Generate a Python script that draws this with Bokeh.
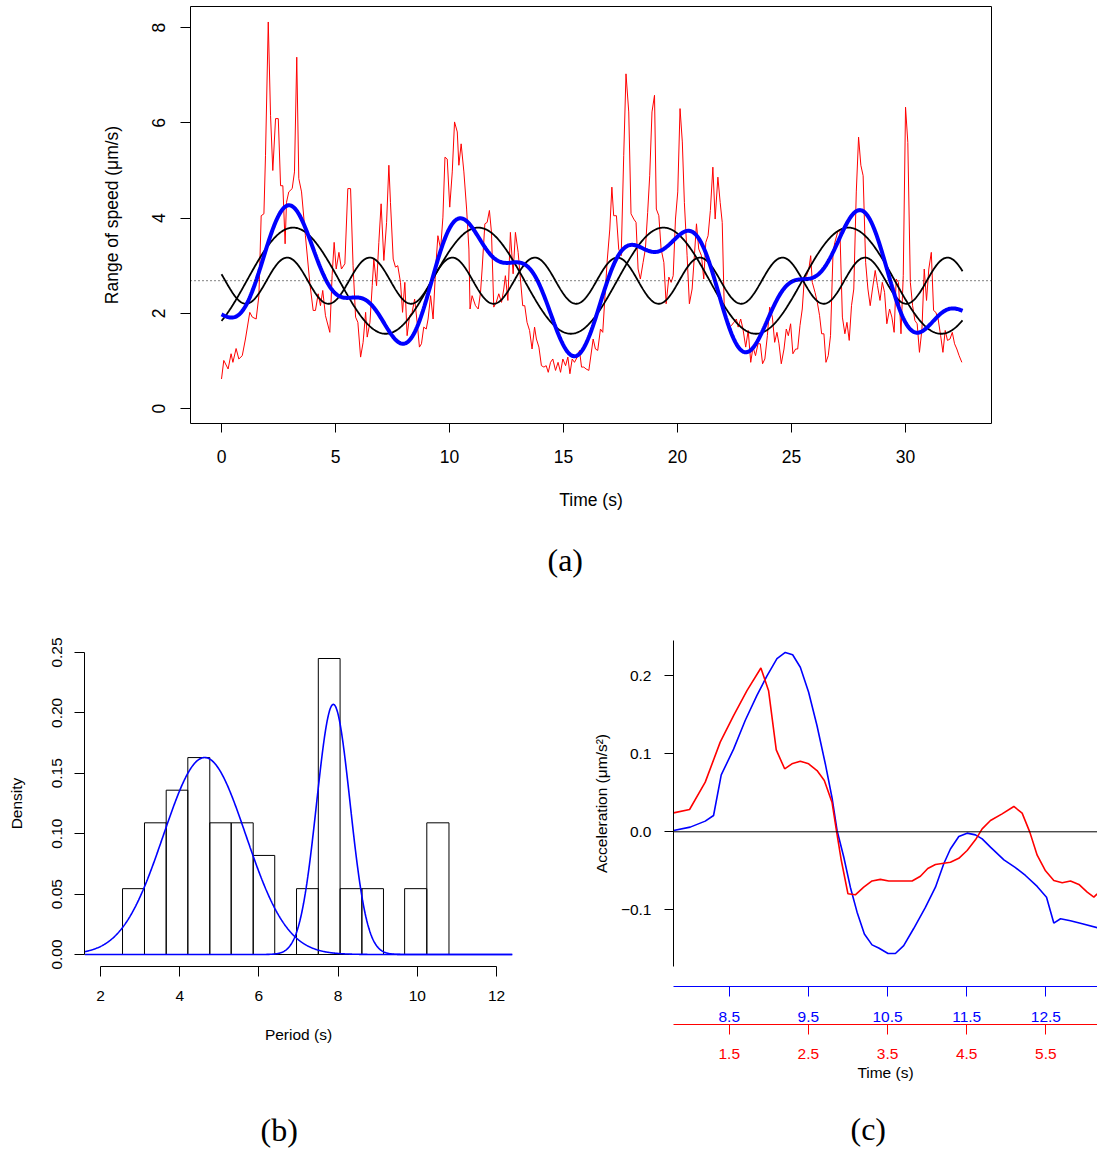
import numpy as np
from bokeh.plotting import figure
from bokeh.layouts import column, row
from bokeh.models import (Range1d, LinearAxis, FixedTicker, Span, Title,
                          PrintfTickFormatter, CustomJSTickFormatter)
from bokeh.embed import file_html
from bokeh.resources import INLINE

SANS = "Liberation Sans"
SERIF = "Liberation Serif"

# ---------------- Panel (a) data ----------------
speed_time = [
    0.00, 0.10, 0.29, 0.42, 0.50, 0.64, 0.76, 0.91, 1.05, 1.24, 1.35, 1.52, 1.64, 1.74, 1.86, 1.93, 2.05, 2.15, 2.25, 2.37,
    2.49, 2.59, 2.69, 2.79, 2.85, 2.95, 3.10, 3.20, 3.30, 3.39, 3.51, 3.68, 3.87, 4.02, 4.12, 4.24, 4.34, 4.44, 4.56, 4.75,
    4.85, 4.94, 5.03, 5.15, 5.26, 5.41,
    5.54, 5.66, 5.77, 5.88, 5.98, 6.10, 6.21, 6.32, 6.39, 6.51, 6.61, 6.68, 6.80, 6.90, 7.00, 7.12, 7.24, 7.34, 7.41, 7.53,
    7.63, 7.73, 7.85, 7.94, 8.04, 8.14, 8.25, 8.36, 8.47, 8.58, 8.68, 8.77, 8.87, 8.98, 9.06, 9.17, 9.28, 9.39, 9.49, 9.61,
    9.71, 9.80, 9.90, 10.01, 10.12, 10.22, 10.34, 10.41, 10.51, 10.63, 10.75, 10.85,
    10.90, 10.99, 11.14, 11.26, 11.36, 11.43, 11.55, 11.65, 11.75, 11.84, 11.94, 12.05, 12.16, 12.28, 12.38, 12.45, 12.56,
    12.67, 12.79, 12.89, 13.01, 13.11, 13.21, 13.30, 13.40, 13.51, 13.62, 13.73, 13.81, 13.92, 14.03, 14.14, 14.24, 14.33,
    14.43, 14.53, 14.65, 14.76, 14.87, 14.97, 15.09, 15.19, 15.28, 15.38, 15.48, 15.60, 15.70, 15.79, 15.89, 15.99, 16.11,
    16.30, 16.40, 16.50, 16.62, 16.72, 16.82, 16.91, 17.03, 17.12, 17.20, 17.32, 17.42, 17.53, 17.64, 17.74, 17.86, 17.96,
    18.08, 18.18, 18.27, 18.37, 18.49, 18.59, 18.69, 18.78, 18.88, 18.99, 19.07, 19.18, 19.28, 19.40, 19.50, 19.62, 19.72,
    19.81, 19.91, 20.01, 20.11, 20.21, 20.30, 20.42, 20.52, 20.64, 20.74, 20.83, 20.93, 21.05, 21.15, 21.24, 21.34, 21.44,
    21.55,
    21.65, 21.77, 21.87, 21.96, 22.05, 22.15, 22.25, 22.36, 22.47, 22.58, 22.66, 22.77, 22.87, 22.99, 23.10, 23.21, 23.31,
    23.42, 23.53, 23.63, 23.73, 23.83, 23.94, 24.04, 24.16, 24.26, 24.36, 24.45, 24.55, 24.67, 24.77, 24.86, 24.96, 25.06,
    25.18, 25.27, 25.37, 25.47, 25.56, 25.66, 25.76, 25.84, 25.91, 26.03, 26.13, 26.23, 26.32, 26.42, 26.51, 26.61, 26.71,
    26.82, 26.90, 27.02, 27.12, 27.23, 27.34,
    27.43, 27.53, 27.63, 27.73, 27.84, 27.94, 28.04, 28.14, 28.25, 28.35, 28.45, 28.55, 28.67, 28.77, 28.88, 28.98, 29.08,
    29.18, 29.30, 29.40, 29.50, 29.59, 29.69, 29.80, 29.90, 30.00, 30.10, 30.21, 30.31, 30.41, 30.51, 30.61, 30.72, 30.82,
    30.92, 31.02, 31.13, 31.23, 31.33, 31.43, 31.54, 31.64, 31.74, 31.84, 31.95, 32.05, 32.15, 32.25, 32.35, 32.47,
]
speed_value = [
    0.62, 1.01, 0.83, 1.15, 0.97, 1.26, 1.04, 1.11, 1.46, 2.02, 1.92, 1.88, 2.37, 4.05, 4.09, 5.32, 8.12, 6.16, 5.00, 6.09,
    6.09, 4.68, 4.68, 3.46, 4.33, 4.55, 4.62, 4.97, 7.38, 4.83, 4.55, 3.63, 2.65, 2.06, 2.06, 2.41, 2.16, 2.48, 1.95, 1.60,
    2.79, 3.49, 2.93, 3.28, 2.93, 3.04,
    4.62, 4.62, 3.00, 1.92, 1.81, 1.08, 1.39, 2.02, 1.50, 1.81, 2.58, 3.14, 2.58, 3.49, 4.30, 3.11, 3.91, 5.11, 4.33, 3.14,
    2.97, 3.00, 2.65, 2.02, 2.65, 1.53, 1.95, 2.02, 2.30, 1.81, 1.29, 1.36, 1.71, 1.67, 1.88, 2.37, 1.88, 2.93, 3.63, 3.35,
    4.02, 5.28, 5.24, 4.23, 4.97, 6.02, 5.81, 5.11, 5.56, 4.97, 4.19, 3.35,
    2.09, 2.37, 2.16, 2.09, 2.44, 2.93, 3.88, 3.91, 4.16, 3.70, 2.13, 2.23, 2.41, 2.23, 2.51, 2.79, 2.27,
    3.70, 2.83, 3.70, 3.28, 2.72, 2.16, 2.16, 1.81, 1.64, 1.25, 1.71, 1.46, 1.29, 0.90, 0.87, 0.90, 0.76,
    0.97, 1.04, 0.80, 0.97, 0.76, 1.04, 0.90, 1.08, 0.73, 1.04, 0.97, 1.08, 1.22, 0.87, 0.87, 0.83, 0.80,
    1.46, 1.25, 1.22, 1.67, 1.60, 2.37, 3.07, 3.77, 4.65, 4.05, 4.05, 3.35, 3.21, 5.32, 7.03, 6.23, 4.09,
    3.98, 3.91, 2.93, 2.72, 3.07, 3.35, 4.12, 4.89, 6.23, 6.58, 4.19, 4.05, 3.35, 3.07, 2.20, 2.76, 2.65,
    2.79, 3.98, 4.55, 6.30, 5.60, 4.33, 3.21, 2.20, 2.51, 3.21, 3.88, 3.35, 3.21, 2.72, 3.49, 3.63, 4.16,
    5.07,
    3.98, 4.86, 4.33, 3.91, 2.09, 1.81, 1.71, 1.74, 1.81, 1.88, 1.71, 1.88, 1.67, 1.29, 1.64, 0.97, 1.29,
    1.11, 1.36, 1.36, 0.94, 1.04, 1.53, 2.13, 1.92, 1.39, 1.60, 1.36, 0.94, 1.25, 1.67, 1.53, 1.78, 1.15,
    1.25, 1.25, 1.74, 2.09, 2.72, 2.79, 2.93, 3.21, 2.65, 2.44, 2.23, 1.95, 1.57, 1.57, 0.97, 1.11, 1.53,
    3.28, 3.49, 3.70, 3.77, 1.92, 1.57,
    1.81, 1.43, 2.16, 2.51, 4.55, 5.70, 5.11, 4.89, 3.07, 2.51, 2.16, 2.51, 2.90, 2.58, 2.27, 2.65, 2.44,
    1.78, 2.09, 1.92, 1.60, 2.72, 2.65, 1.57, 2.79, 6.33, 5.59, 2.65, 2.16, 1.85, 1.78, 1.18, 1.67, 2.93,
    2.27, 2.93, 3.28, 2.06, 2.02, 1.88, 1.53, 1.18, 1.64, 1.43, 1.46, 1.60, 1.36, 1.25, 1.11, 0.97,
]
mean_speed = 2.685
# fitted sinusoidal components: (period s, amplitude, time of first peak s)
long_period, long_amplitude, long_peak = 8.12, 1.115, 3.14
short_period, short_amplitude, short_peak = 3.62, 0.485, 2.88
fit_start, fit_end = 0.0, 32.5
a_xticks = [0, 5, 10, 15, 20, 25, 30]
a_yticks = [0, 2, 4, 6, 8]

# ---------------- Panel (b) data ----------------
hist_edges = [2.556, 3.111, 3.659, 4.205, 4.760, 5.300, 5.856, 6.400, 6.950, 7.500, 8.050, 8.600, 9.146, 9.680, 10.240, 10.800]
hist_density = [0.0545, 0.109, 0.136, 0.163, 0.109, 0.109, 0.082, 0.0, 0.0545, 0.245, 0.0545, 0.0545, 0.0, 0.0545, 0.109]
# mixture components: (weight, mean, sd)
mix_components = [(0.425, 4.63, 1.04), (0.219, 7.88, 0.422)]
b_xticks = [2, 4, 6, 8, 10, 12]
b_yticks = [0.0, 0.05, 0.10, 0.15, 0.20, 0.25]

# ---------------- Panel (c) data ----------------
blue_time = [7.797, 8.007, 8.197, 8.302, 8.399, 8.555, 8.703, 8.850, 8.977, 9.103, 9.208, 9.301, 9.398, 9.503, 9.609,
             9.714, 9.798, 9.862, 9.946, 10.03, 10.115, 10.207, 10.304, 10.388, 10.506, 10.599, 10.704, 10.83, 10.978,
             11.105, 11.21, 11.294, 11.40, 11.505, 11.61, 11.695, 11.80, 11.97, 12.116, 12.242, 12.39, 12.508, 12.60,
             12.685, 12.81, 12.96, 13.148]
blue_acc = [0.0017, 0.0060, 0.0137, 0.0209, 0.073, 0.106, 0.143, 0.175, 0.200, 0.222, 0.230, 0.227, 0.211, 0.179, 0.136,
            0.087, 0.044, 0.0017, -0.032, -0.071, -0.103, -0.131, -0.145, -0.149, -0.156, -0.156, -0.146, -0.124, -0.097,
            -0.071, -0.041, -0.022, -0.006, -0.0017, -0.0039, -0.009, -0.0197, -0.036, -0.046, -0.056, -0.070, -0.084,
            -0.117, -0.1115, -0.114, -0.118, -0.123]
red_time = [0.797, 0.999, 1.197, 1.386, 1.555, 1.724, 1.90, 1.997, 2.094, 2.20, 2.292, 2.398, 2.503, 2.609, 2.701, 2.798,
            2.861, 2.916, 3.0, 3.093, 3.199, 3.304, 3.409, 3.515, 3.683, 3.81, 3.915, 4.008, 4.105, 4.294, 4.40, 4.505,
            4.61, 4.695, 4.80, 4.947, 5.095, 5.20, 5.297, 5.39, 5.495, 5.60, 5.706, 5.811, 5.917, 6.022, 6.106, 6.148]
red_acc = [0.0243, 0.0286, 0.0637, 0.115, 0.149, 0.181, 0.210, 0.181, 0.105, 0.0808, 0.0872, 0.0906, 0.0872, 0.0786, 0.0658,
           0.038, -0.0026, -0.0368, -0.0795, -0.0808, -0.071, -0.063, -0.061, -0.063, -0.063, -0.063, -0.057, -0.047,
           -0.042, -0.039, -0.034, -0.024, -0.0103, 0.0038, 0.0145, 0.023, 0.0325, 0.0239, -0.0004, -0.030, -0.050,
           -0.0624, -0.0654, -0.063, -0.0675, -0.0774, -0.0838, -0.0795]
c_blue_ticks = [8.5, 9.5, 10.5, 11.5, 12.5]
c_red_ticks = [1.5, 2.5, 3.5, 4.5, 5.5]
c_yticks = [-0.1, 0.0, 0.1, 0.2]


def style_axis(ax, size, tick_out, standoff, label_standoff, color="black", line=True):
    ax.axis_label_text_font = SANS
    ax.axis_label_text_font_style = "normal"
    ax.axis_label_text_font_size = size
    ax.axis_label_text_color = color
    ax.major_label_text_font = SANS
    ax.major_label_text_font_size = size
    ax.major_label_text_color = color
    ax.major_tick_out = tick_out
    ax.major_tick_in = 0
    ax.minor_tick_out = 0
    ax.minor_tick_in = 0
    ax.minor_tick_line_color = None
    ax.major_tick_line_color = color
    ax.major_tick_line_width = 1
    ax.major_label_standoff = standoff
    ax.axis_label_standoff = label_standoff
    ax.axis_line_color = color if line else None
    ax.axis_line_width = 1


def caption(p, text, offset, standoff):
    """Sub-figure caption below the panel."""
    p.add_layout(Title(text=text, align="left", vertical_align="top", offset=offset, standoff=standoff,
                       text_font=SERIF, text_font_size="32px", text_font_style="normal",
                       text_color="black"), "below")


# ---------------- Panel (a) ----------------
pa = figure(frame_width=801, frame_height=417, min_border_left=190, min_border_right=106,
            min_border_top=6, min_border_bottom=190,
            x_range=Range1d(-1.36, 33.77), y_range=Range1d(-0.315, 8.445),
            output_backend="svg", toolbar_location=None)
pa.grid.visible = False
pa.outline_line_color = "black"
pa.outline_line_width = 1
pa.outline_line_alpha = 1

pa.line(speed_time, speed_value, line_color="red", line_width=1)
t_fit = np.linspace(fit_start, fit_end, 800)
long_curve = mean_speed + long_amplitude * np.cos(2 * np.pi * (t_fit - long_peak) / long_period)
short_curve = mean_speed + short_amplitude * np.cos(2 * np.pi * (t_fit - short_peak) / short_period)
sum_curve = long_curve + short_curve - mean_speed
pa.line(t_fit, long_curve, line_color="black", line_width=1.8)
pa.line(t_fit, short_curve, line_color="black", line_width=1.8)
pa.line(t_fit, sum_curve, line_color="#0000FF", line_width=4)
pa.add_layout(Span(location=mean_speed, dimension="width", line_color="black", line_width=1, line_dash="1 3"))

pa.xaxis.ticker = FixedTicker(ticks=a_xticks)
pa.yaxis.ticker = FixedTicker(ticks=a_yticks)
style_axis(pa.xaxis[0], "17.5px", 9, 17, 24, line=False)
style_axis(pa.yaxis[0], "17.5px", 10, 15, 28, line=False)
pa.yaxis.major_label_orientation = "vertical"
pa.xaxis.axis_label = "Time (s)"
pa.yaxis.axis_label = "Range of speed (μm/s)"
caption(pa, "(a)", 357, 58)

# ---------------- Panel (b) ----------------
b_x0, b_x1 = 1.596, 12.404
pb = figure(frame_width=428, frame_height=326, min_border_left=84, min_border_right=48,
            min_border_top=27, min_border_bottom=184,
            x_range=Range1d(b_x0, b_x1), y_range=Range1d(-0.00993, 0.2599),
            output_backend="svg", toolbar_location=None)
pb.grid.visible = False
pb.outline_line_color = None
pb.quad(left=hist_edges[:-1], right=hist_edges[1:], bottom=0, top=hist_density,
        fill_color=None, line_color="black", line_width=1)
grid_b = np.linspace(b_x0, b_x1, 800)
for w, m, s in mix_components:
    dens = w / (s * np.sqrt(2 * np.pi)) * np.exp(-0.5 * ((grid_b - m) / s) ** 2)
    pb.line(grid_b, dens, line_color="#0000FF", line_width=1.6)

pb.xaxis.ticker = FixedTicker(ticks=b_xticks)
pb.yaxis.ticker = FixedTicker(ticks=b_yticks)
pb.yaxis.formatter = PrintfTickFormatter(format="%.2f")
style_axis(pb.xaxis[0], "15.5px", 10, 14, 22)
style_axis(pb.yaxis[0], "15.5px", 10, 12, 25)
pb.xaxis.bounds = (b_xticks[0], b_xticks[-1])
pb.yaxis.bounds = (b_yticks[0], b_yticks[-1])
pb.yaxis.major_label_orientation = "vertical"
pb.xaxis.axis_label = "Period (s)"
pb.yaxis.axis_label = "Density"
caption(pb, "(b)", 176, 132)

# ---------------- Panel (c) ----------------
pc = figure(frame_width=424, frame_height=326, min_border_left=113, min_border_right=0,
            min_border_top=27, min_border_bottom=184,
            x_range=Range1d(7.796, 13.152), y_range=Range1d(-0.1727, 0.2453),
            x_axis_location=None,
            output_backend="svg", toolbar_location=None)
pc.extra_x_ranges = {"red": Range1d(0.796, 6.152)}
pc.grid.visible = False
pc.outline_line_color = None
pc.add_layout(Span(location=0, dimension="width", line_color="black", line_width=1))
pc.line(blue_time, blue_acc, line_color="#0000FF", line_width=1.6)
pc.line(red_time, red_acc, line_color="red", line_width=1.6, x_range_name="red")

# gap between the plotting region and the two time axes
gap_axis = LinearAxis(ticker=FixedTicker(ticks=[]), axis_label=" ")
gap_axis.axis_line_color = None
gap_axis.major_tick_line_color = None
gap_axis.minor_tick_line_color = None
gap_axis.major_tick_out = 0
gap_axis.minor_tick_out = 0
gap_axis.major_label_standoff = 0
gap_axis.axis_label_standoff = 16
gap_axis.axis_label_text_font_size = "1px"
pc.add_layout(gap_axis, "below")

blue_axis = LinearAxis(ticker=FixedTicker(ticks=c_blue_ticks))
style_axis(blue_axis, "15.5px", 10, 15, 2, color="#0000FF")
pc.add_layout(blue_axis, "below")
red_axis = LinearAxis(x_range_name="red", ticker=FixedTicker(ticks=c_red_ticks))
style_axis(red_axis, "15.5px", 10, 14, 2, color="red")
red_axis.axis_label = "Time (s)"
red_axis.axis_label_text_color = "black"
pc.add_layout(red_axis, "below")

pc.yaxis.ticker = FixedTicker(ticks=c_yticks)
pc.yaxis.formatter = CustomJSTickFormatter(code="return (tick < -1e-9 ? '\u2212' : '') + Math.abs(tick).toFixed(1);")
style_axis(pc.yaxis[0], "15.5px", 9, 13, 8)
pc.yaxis.axis_label = "Acceleration (μm/s²)"
caption(pc, "(c)", 177, 54)

layout = column(pa, row(pb, pc))
open("out.html", "w").write(file_html(layout, INLINE))
